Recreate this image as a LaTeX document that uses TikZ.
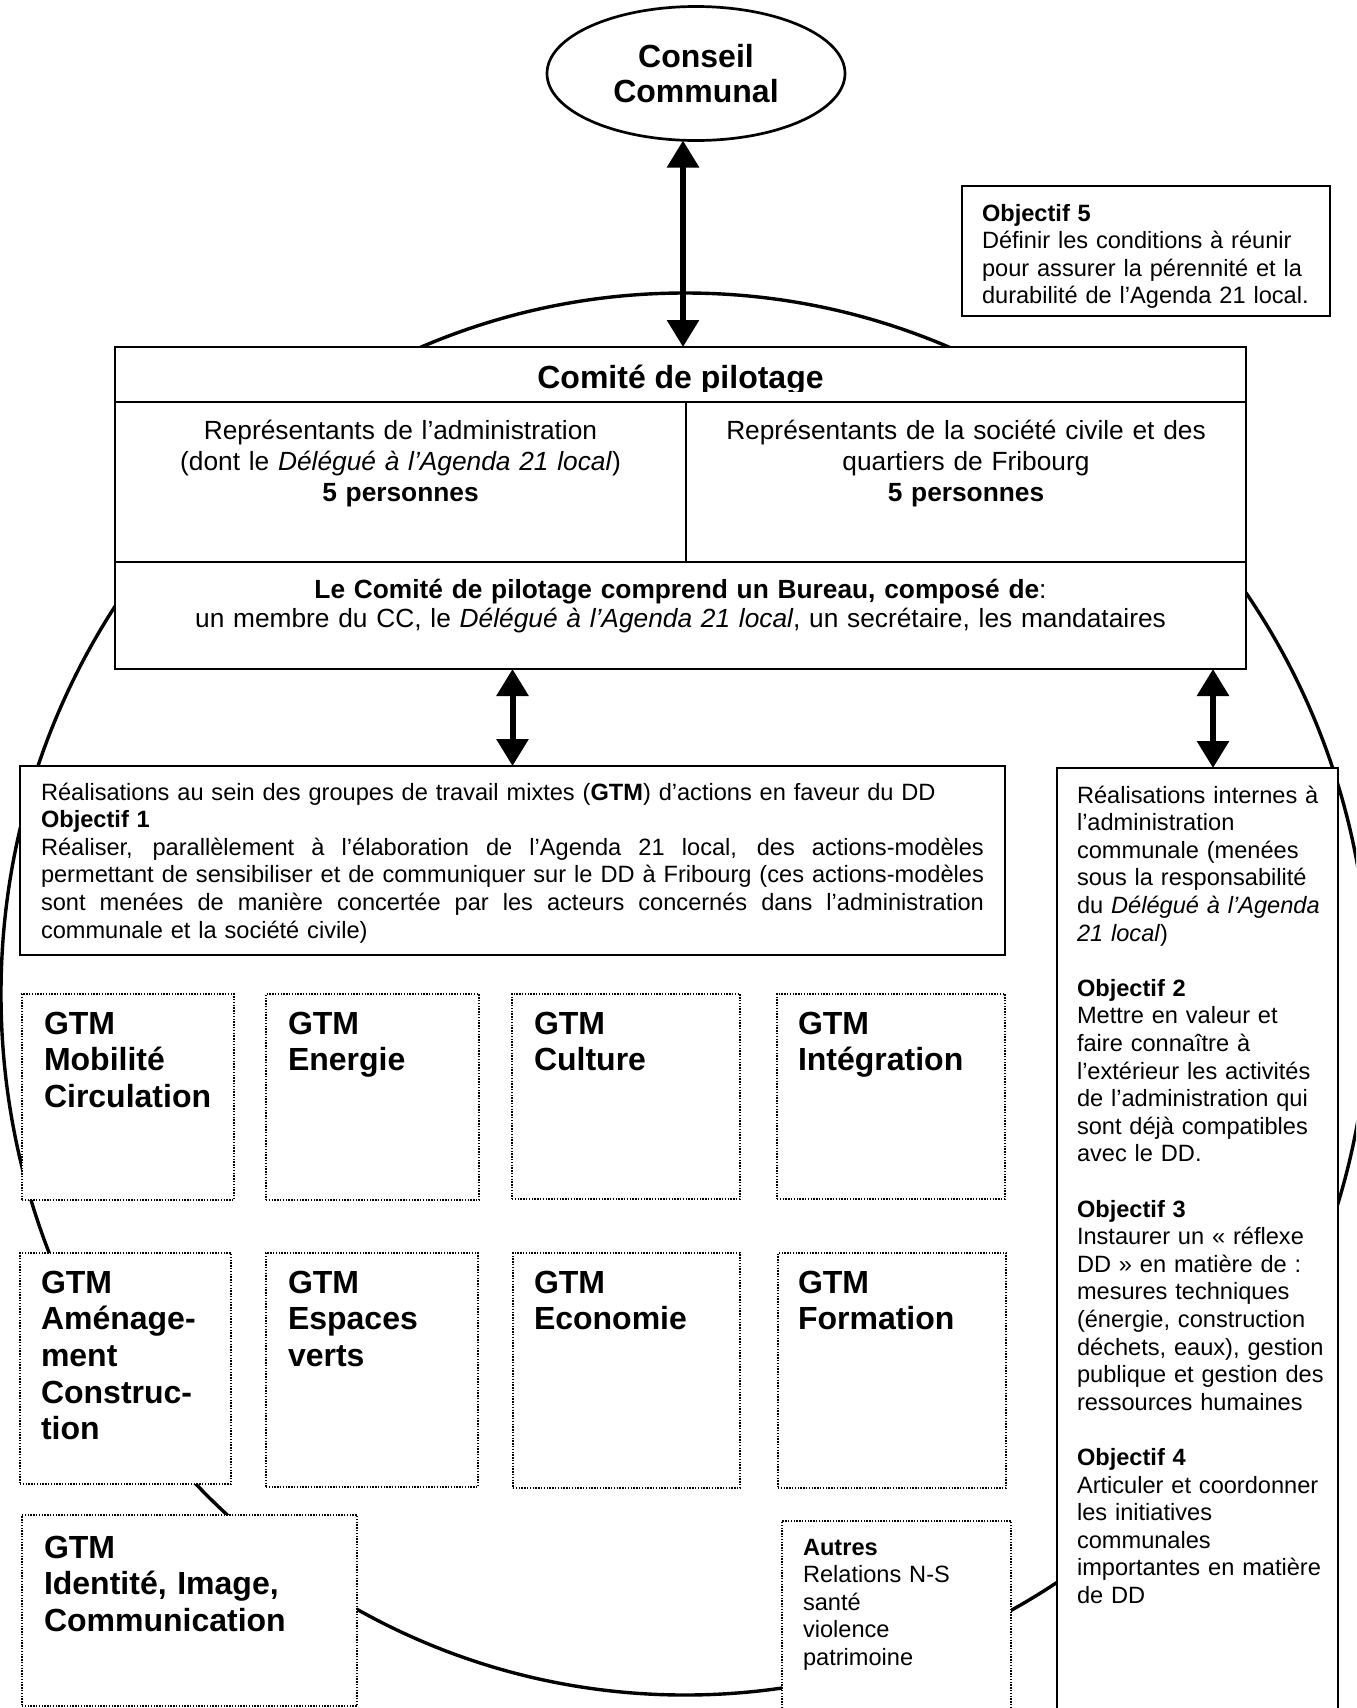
\documentclass[tikz,border=0pt]{standalone}
\usepackage{fontspec}
\setmainfont{Liberation Sans}
\usetikzlibrary{arrows.meta,shapes.geometric,fit}
\newcommand\myjline[1]{\leavevmode\hbox to 471.5pt{\spaceskip=.278em plus 1fil\relax #1}}
\begin{document}
\begin{tikzpicture}[x=0.5pt,y=-0.5pt,
  every node/.style={inner sep=0pt, outer sep=0pt},
  sbox/.style={draw, line width=0.9pt, fill=white, inner sep=0pt},
  dbox/.style={draw, line width=0.8pt, dash pattern=on 0.7pt off 0.7pt, fill=white, inner sep=0pt},
  body/.style={font=\fontsize{11.8pt}{13.8pt}\selectfont, align=left, anchor=base west},
  ttl/.style={font=\fontsize{16pt}{18.35pt}\selectfont\bfseries, align=left, anchor=base west, text width=160pt},
  mid/.style={font=\fontsize{13.15pt}{15.5pt}\selectfont, align=center, anchor=base},
  dbl/.style={line width=3pt, {Triangle[width=15.5pt,length=13.5pt]}-{Triangle[width=15.5pt,length=13.5pt]}},
]
\useasboundingbox (0,0) rectangle (1356,1708);
\fill[white] (0,0) rectangle (1356,1708);
\clip (0,0) rectangle (1356,1708);

% big ring
\node[ellipse, draw, line width=1.7pt, minimum width=684pt, minimum height=701pt] (ring) at (685,994) {};

% Conseil communal
\node[ellipse, draw, fill=white, line width=1.35pt, minimum width=149pt, minimum height=67pt,
      font=\fontsize{16pt}{17.5pt}\selectfont\bfseries, align=center, text width=90pt] (cc) at (696,73.5) {Conseil\\Communal};

% Objectif 5
\node[sbox, fit={(962,186) (1330,316)}] (obj5) {};
\node[body, text width=170pt] (obj5t) at (982,221)
  {\textbf{Objectif 5}\\Définir les conditions à réunir\\pour assurer la pérennité et la\\durabilité de l’Agenda 21 local.};

% Comite de pilotage
\node[sbox, fit={(115,347) (1246,669)}] (comite) {};
\coordinate (r1) at (0,402);
\coordinate (r2) at (0,562);
\coordinate (dv) at (686,0);
\draw[line width=0.9pt] (comite.west |- r1) -- (comite.east |- r1);
\draw[line width=0.9pt] (comite.west |- r2) -- (comite.east |- r2);
\draw[line width=0.9pt] (dv |- r1) -- (dv |- r2);
\begin{scope}
  \clip (115,340) rectangle (1246,391);
  \node[font=\fontsize{16pt}{18pt}\selectfont\bfseries, anchor=base] (ctitle) at (680.5,388) {Comité de pilotage};
\end{scope}
\node[mid, text width=280pt] (adm) at (400.5,439)
  {Représentants de l’administration\\(dont le \textit{Délégué à l’Agenda 21 local})\\\textbf{5 personnes}};
\node[mid, text width=280pt] (civ) at (966,439)
  {Représentants de la société civile et des\\quartiers de Fribourg\\\textbf{5 personnes}};
\node[mid, text width=560pt, font=\fontsize{13.15pt}{14.5pt}\selectfont] (bur) at (680.5,598)
  {\textbf{Le Comité de pilotage comprend un Bureau, composé de}:\\un membre du CC, le \textit{Délégué à l’Agenda 21 local}, un secrétaire, les mandataires};

% Realisations GTM
\node[sbox, fit={(20,766) (1005,955)}] (rgtm) {};
\node[body, text width=471.5pt] (rgtmt) at (41,800)
  {Réalisations au sein des groupes de travail mixtes (\textbf{GTM}) d’actions en faveur du DD\\
   \textbf{Objectif 1}\\
   \myjline{Réaliser, parallèlement à l’élaboration de l’Agenda 21 local, des actions-modèles}\\
   \myjline{permettant de sensibiliser et de communiquer sur le DD à Fribourg (ces actions-modèles}\\
   \myjline{sont menées de manière concertée par les acteurs concernés dans l’administration}\\
   communale et la société civile)};

% Realisations internes
\node[sbox, fit={(1057,768) (1338,1720)}] (interne) {};
\node[body, text width=135pt] (internet) at (1077,803)
  {Réalisations internes à\\l’administration\\communale (menées\\sous la responsabilité\\du \textit{Délégué à l’Agenda}\\\textit{21 local})\\[13.8pt]
   \textbf{Objectif 2}\\Mettre en valeur et\\faire connaître à\\l’extérieur les activités\\de l’administration qui\\sont déjà compatibles\\avec le DD.\\[13.8pt]
   \textbf{Objectif 3}\\Instaurer un « réflexe\\DD » en matière de :\\mesures techniques\\(énergie, construction\\déchets, eaux), gestion\\publique et gestion des\\ressources humaines\\[13.8pt]
   \textbf{Objectif 4}\\Articuler et coordonner\\les initiatives\\communales\\importantes en matière\\de DD};

% GTM boxes
\node[dbox, fit={(22,994) (234,1200)}] (g1) {};
\node[ttl] (g1t) at (44,1034) {GTM\\Mobilité\\Circulation};
\node[dbox, fit={(266,994) (479,1200)}] (g2) {};
\node[ttl] (g2t) at (288,1034) {GTM\\Energie};
\node[dbox, fit={(512,994) (740,1199)}] (g3) {};
\node[ttl] (g3t) at (534,1034) {GTM\\Culture};
\node[dbox, fit={(777,994) (1005,1199)}] (g4) {};
\node[ttl] (g4t) at (798,1034) {GTM\\Intégration};

\node[dbox, fit={(20,1253) (231,1484)}] (g5) {};
\node[ttl] (g5t) at (41,1293) {GTM\\Aménage-\\ment\\Construc-\\tion};
\node[dbox, fit={(266,1253) (478,1487)}] (g6) {};
\node[ttl] (g6t) at (288,1293) {GTM\\Espaces\\verts};
\node[dbox, fit={(513,1253) (740,1488)}] (g7) {};
\node[ttl] (g7t) at (534,1293) {GTM\\Economie};
\node[dbox, fit={(778,1253) (1006,1488)}] (g8) {};
\node[ttl] (g8t) at (798,1293) {GTM\\Formation};

\node[dbox, fit={(22,1515) (357,1706)}] (g9) {};
\node[ttl] (g9t) at (44,1558) {GTM\\Identité, Image,\\Communication};

\node[dbox, fit={(782,1521) (1011,1720)}] (autres) {};
\node[body, text width=100pt] (autrest) at (803,1555) {\textbf{Autres}\\Relations N-S\\santé\\violence\\patrimoine};

% arrows
\coordinate (ax1) at (683,0);
\coordinate (ax3) at (1213,0);
\draw[dbl] (cc.south -| ax1) -- (comite.north -| ax1);
\draw[dbl] (comite.south -| rgtm.north) -- (rgtm.north);
\draw[dbl] (comite.south -| ax3) -- (interne.north -| ax3);
\end{tikzpicture}
\end{document}
